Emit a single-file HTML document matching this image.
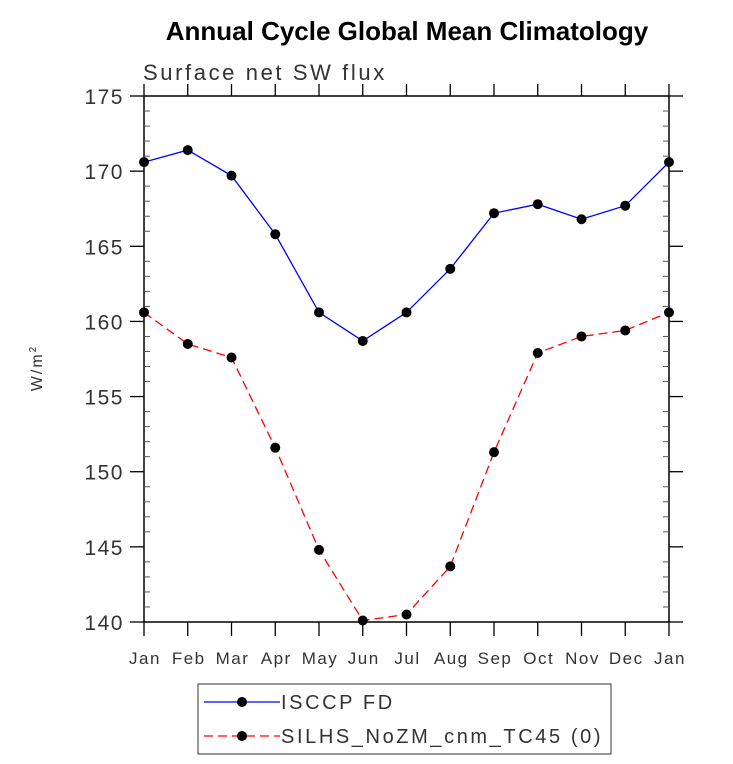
<!DOCTYPE html>
<html><head><meta charset="utf-8"><style>
body{margin:0;background:#fff;}
svg text{font-family:"Liberation Sans",sans-serif;}
</style></head><body>
<svg id="chart" width="733" height="759" viewBox="0 0 733 759" xmlns="http://www.w3.org/2000/svg">
<text x="407" y="40" text-anchor="middle" font-size="26" font-weight="bold">Annual Cycle Global Mean Climatology</text>
<text x="143" y="80" font-size="22" fill="#333" letter-spacing="2.6">Surface net SW flux</text>
<text transform="translate(42,368) rotate(-90)" text-anchor="middle" font-size="16" fill="#333" letter-spacing="2">W/m<tspan font-size="10" dy="-6">2</tspan></text>
<g id="axes"></g>
<g id="series"></g>
<g>
<rect x="198" y="684" width="413" height="70" fill="none" stroke="#333" stroke-width="1"/>
<line x1="204" y1="702" x2="280" y2="702" stroke="#0000ff" stroke-width="1.3"/>
<circle cx="242" cy="702" r="5" fill="#000"/>
<text x="281" y="709" font-size="20" fill="#333" letter-spacing="2.6">ISCCP FD</text>
<line x1="204" y1="736" x2="280" y2="736" stroke="#ff0000" stroke-width="1.3" stroke-dasharray="9,5"/>
<circle cx="242" cy="736" r="5" fill="#000"/>
<text x="281" y="743" font-size="20" fill="#333" letter-spacing="2.6">SILHS_NoZM_cnm_TC45 (0)</text>
</g>
</svg>
<script>
const months = ["Jan","Feb","Mar","Apr","May","Jun","Jul","Aug","Sep","Oct","Nov","Dec","Jan"];
const isccp = [170.6,171.4,169.7,165.8,160.6,158.7,160.6,163.5,167.2,167.8,166.8,167.7,170.6];
const silhs = [160.6,158.5,157.6,151.6,144.8,140.1,140.5,143.7,151.3,157.9,159.0,159.4,160.6];
const yTicks = [140,145,150,155,160,165,170,175];

const NS="http://www.w3.org/2000/svg";
const L=144,R=669,T=96,B=622,yMin=140,yMax=175;
const xs=i=>L+i*(R-L)/(months.length-1);
const ys=v=>B-(v-yMin)/(yMax-yMin)*(B-T);
function mk(tag,attrs,parent){const e=document.createElementNS(NS,tag);for(const k in attrs)e.setAttribute(k,attrs[k]);parent.appendChild(e);return e;}
const ax=document.getElementById('axes');
const f=mk('rect',{x:L,y:T,width:R-L,height:B-T,fill:'none',stroke:'#000','stroke-width':1.5},ax);


for(let v=yMin;v<=yMax;v++){
  const y=ys(v);
  if(v%5===0){
    mk('line',{x1:L-14,y1:y,x2:L,y2:y,stroke:'#000','stroke-width':1.3},ax);
    mk('line',{x1:R,y1:y,x2:R+14,y2:y,stroke:'#000','stroke-width':1.3},ax);
  } else {
    mk('line',{x1:L,y1:y,x2:L+6,y2:y,stroke:'#555','stroke-width':1},ax);
    mk('line',{x1:R-6,y1:y,x2:R,y2:y,stroke:'#555','stroke-width':1},ax);
  }
}
yTicks.forEach(v=>{
  const t=mk('text',{x:L-20,y:ys(v)+8,'text-anchor':'end','font-size':21,fill:'#333','letter-spacing':1.5},ax);
  t.textContent=v;
  
  
});
months.forEach((m,i)=>{
  const x=xs(i);
  mk('line',{x1:x,y1:B,x2:x,y2:B+14,stroke:'#000','stroke-width':1.3},ax);
  mk('line',{x1:x,y1:T-12,x2:x,y2:T,stroke:'#000','stroke-width':1.3},ax);
  const t=mk('text',{x:x+1,y:B+42,'text-anchor':'middle','font-size':17,fill:'#333','letter-spacing':1.5},ax);
  t.textContent=m;
  
  
});
const sg=document.getElementById('series');
function draw(data,color,dash,name){
  const p=mk('polyline',{points:data.map((v,i)=>xs(i)+','+ys(v)).join(' '),fill:'none',stroke:color,'stroke-width':1.3},sg);
  if(dash)p.setAttribute('stroke-dasharray',dash);
  
  
  data.forEach((v,i)=>{
    const c=mk('circle',{cx:xs(i),cy:ys(v),r:5,fill:'#000'},sg);
    
    
  });
}
draw(isccp,'#0000ff',null,'isccp');
draw(silhs,'#ff0000','9,5','silhs');
</script>
</body></html>
